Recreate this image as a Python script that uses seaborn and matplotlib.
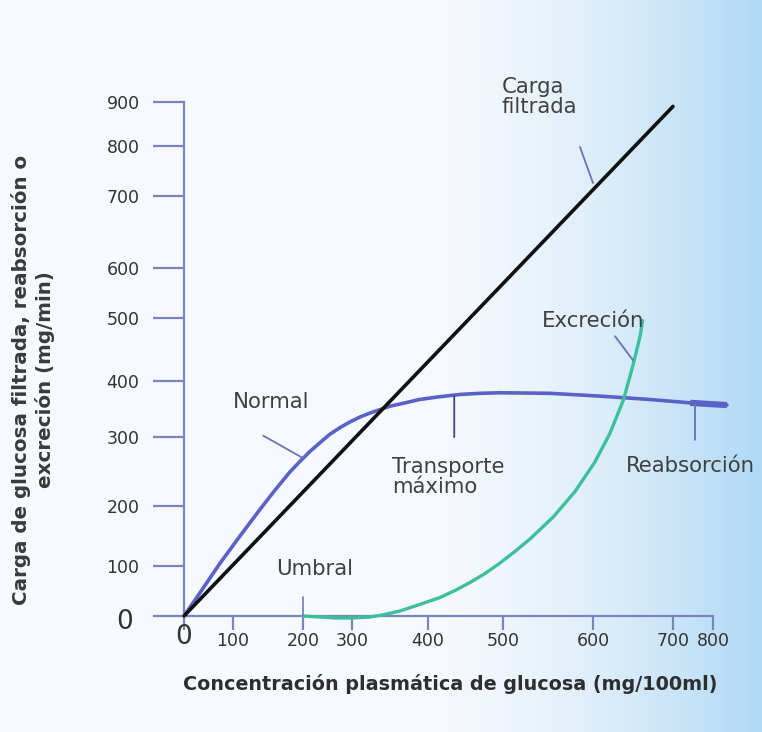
import numpy as np
import matplotlib
matplotlib.use("Agg")
import matplotlib.pyplot as plt
import seaborn as sns

# ---- data -------------------------------------------------------------
x_ticks = [0, 100, 200, 300, 400, 500, 600, 700, 800]
y_ticks = [0, 100, 200, 300, 400, 500, 600, 700, 800, 900]

# filtered load (straight line)
filt_x = [0, 700]
filt_y = [0, 890]

# reabsorption curve
reab_x = [0, 33, 73, 110, 139, 160, 181, 196, 214, 235, 255, 276, 296, 311,
          324, 337, 350, 370, 389, 416, 443, 469, 496, 552, 609, 671, 743, 835]
reab_y = [0, 47, 104, 150, 195, 223, 249, 265, 279, 292, 305, 317, 327, 336,
          343, 349, 355, 361, 367, 372, 376, 378, 379, 378, 373, 367, 361, 357]

# excretion curve
exc_x = [200, 235, 267, 300, 324, 343, 363, 389, 416, 436, 456, 476, 496,
         513, 530, 556, 580, 602, 621, 638, 650, 659, 662]
exc_y = [0, -2, -4, -4, -2, 3, 10, 23, 37, 51, 67, 85, 105,
         124, 145, 182, 221, 263, 306, 366, 425, 472, 496]

# ---- figure geometry (pixels) -----------------------------------------
W, H = 762, 732
X0, Y0 = 184, 616                     # origin of the drawing in pixels
x_spacing = [0, 49, 119, 168, 244, 319, 409, 489, 529]          # pixel offset of each x tick
y_spacing = [0, 50, 110, 179, 235, 298, 348, 420, 470, 514]     # pixel offset of each y tick


def piecewise(vals, offs):
    vals = np.asarray(vals, float)
    offs = np.asarray(offs, float)

    def _map(v, a, b):
        v = np.asarray(v, float)
        out = np.interp(v, a, b)
        lo_s = (b[1] - b[0]) / (a[1] - a[0])
        hi_s = (b[-1] - b[-2]) / (a[-1] - a[-2])
        out = np.where(v < a[0], b[0] + (v - a[0]) * lo_s, out)
        out = np.where(v > a[-1], b[-1] + (v - a[-1]) * hi_s, out)
        return out

    return (lambda v: _map(v, vals, offs)), (lambda p: _map(p, offs, vals))


fx, ix = piecewise(x_ticks, x_spacing)
fy, iy = piecewise(y_ticks, y_spacing)

sns.set_theme(style="white")
plt.rcParams["font.family"] = ["DejaVu Sans"]

fig = plt.figure(figsize=(W / 100, H / 100), dpi=100)

# soft light-blue background
bg = fig.add_axes([0, 0, 1, 1], zorder=-10)
xx = np.linspace(0, 1, W)
t = np.clip((xx * W - 430) / (W - 430), 0, 1) ** 1.5
left = np.array([246, 249, 253]) / 255
right = np.array([176, 217, 245]) / 255
row = left[None, :] * (1 - t[:, None]) + right[None, :] * t[:, None]
img = np.repeat(row[None, :, :], H, axis=0)
bg.imshow(img, aspect="auto", extent=[0, 1, 0, 1])
bg.set_axis_off()

# main axes laid out in pixels
L, R, T, B = 140, 745, 90, 662
ax = fig.add_axes([L / W, 1 - B / H, (R - L) / W, (B - T) / H])
ax.patch.set_alpha(0)
ax.set_xscale("function", functions=(fx, ix))
ax.set_yscale("function", functions=(fy, iy))
ax.set_xlim(float(ix(L - X0)), float(ix(R - X0)))
ax.set_ylim(float(iy(Y0 - B)), float(iy(Y0 - T)))

black = "#111111"
blue = "#5a62c6"
green = "#3bbf9c"
axis_c = "#7c84bc"
lead_c = "#6a72b6"
txt_c = "#404040"

sns.lineplot(x=filt_x, y=filt_y, ax=ax, color=black, lw=2.6, sort=False,
             estimator=None, zorder=4)
sns.lineplot(x=reab_x, y=reab_y, ax=ax, color=blue, lw=2.6, sort=False,
             estimator=None, zorder=3)
sns.lineplot(x=reab_x[-2:], y=reab_y[-2:], ax=ax, color=blue, lw=4.5,
             sort=False, estimator=None, zorder=3, solid_capstyle="butt")
sns.lineplot(x=exc_x, y=exc_y, ax=ax, color=green, lw=2.4, sort=False,
             estimator=None, zorder=3)

# axes styling
for s in ["top", "right"]:
    ax.spines[s].set_visible(False)
ax.spines["left"].set_position(("data", 0))
ax.spines["bottom"].set_position(("data", 0))
ax.spines["left"].set_bounds(0, 900)
ax.spines["bottom"].set_bounds(0, 800)
for s in ["left", "bottom"]:
    ax.spines[s].set_color(axis_c)
    ax.spines[s].set_linewidth(1.6)

ax.set_xticks(x_ticks)
ax.set_yticks(y_ticks)
# the zero labels are drawn separately, larger
ax.set_xticklabels([""] + [str(v) for v in x_ticks[1:]])
ax.set_yticklabels([""] + [str(v) for v in y_ticks[1:]])
ax.tick_params(axis="y", direction="out", length=22, width=1.6, color=axis_c,
               pad=10, labelsize=12.5, labelcolor="#333333", left=True)
ax.tick_params(axis="x", direction="out", length=10, width=1.6, color=axis_c,
               pad=1.5, labelsize=12.5, labelcolor="#333333", bottom=True)
ax.set_xlabel("")
ax.set_ylabel("")


def P(x, y):
    return x / W, 1 - y / H


fig.text(*P(184, 637), "0", ha="center", va="center", fontsize=19, color="#333333")
fig.text(*P(125, 622), "0", ha="center", va="center", fontsize=19, color="#333333")

# axis titles
fig.text(*P(450, 684), "Concentración plasmática de glucosa (mg/100ml)",
         ha="center", va="center", fontsize=13.8, fontweight="bold",
         color="#2e2e2e")
fig.text(*P(33, 380), "Carga de glucosa filtrada, reabsorción o\nexcreción (mg/min)",
         ha="center", va="center", rotation=90, fontsize=14.3, fontweight="bold",
         color="#3a3a3a", multialignment="center", linespacing=1.2)

# curve labels
fs = 15.3
fig.text(*P(502, 97), "Carga\nfiltrada", ha="left", va="center", fontsize=fs,
         color=txt_c, linespacing=1.05)
fig.text(*P(271, 402), "Normal", ha="center", va="center", fontsize=fs, color=txt_c)
fig.text(*P(392, 477), "Transporte\nmáximo", ha="left", va="center", fontsize=fs,
         color=txt_c, linespacing=1.05)
fig.text(*P(593, 321), "Excreción", ha="center", va="center", fontsize=fs, color=txt_c)
fig.text(*P(690, 466), "Reabsorción", ha="center", va="center", fontsize=fs, color=txt_c)
fig.text(*P(315, 569), "Umbral", ha="center", va="center", fontsize=fs, color=txt_c)

# leader lines
leaders = [
    ((600, 726), (-13, 36), lead_c),
    ((199, 270), (-39, 22), lead_c),
    ((435, 373), (0, -41), "#3c4488"),
    ((650, 433), (-18, 24), lead_c),
    ((755, 359), (0, -36), lead_c),
    ((200, 0), (0, 19), axis_c),
]
for xy, off, c in leaders:
    ax.annotate("", xy=xy, xytext=off, textcoords="offset pixels",
                arrowprops=dict(arrowstyle="-", color=c, lw=1.3,
                                shrinkA=0, shrinkB=0))

fig.savefig("out.png", dpi=100)
